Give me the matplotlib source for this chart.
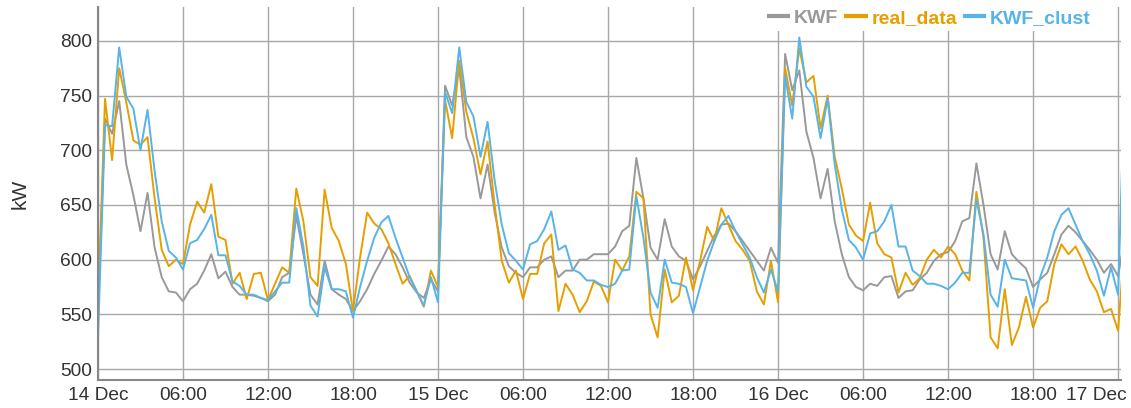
import matplotlib
matplotlib.use("Agg")

import matplotlib.pyplot as plt
import matplotlib.dates as mdates
import matplotlib.transforms as mtransforms
import pandas as pd

# half-hourly readings from 14 Dec 00:00
start = "2019-12-14 00:00"

kwf = [
    548, 729, 715, 745, 687, 659, 626, 661, 611, 584, 571, 570, 562,
    573, 578, 590, 605, 583, 589, 575, 568, 568, 567, 565, 562,
    568, 584, 588, 640, 605, 568, 559, 599, 573, 568, 564, 553,
    562, 573, 587, 599, 612, 605, 593, 579, 570, 565, 582, 571,
    759, 741, 775, 712, 694, 656, 687, 643, 611, 594, 588, 584,
    593, 593, 600, 603, 584, 590, 590, 600, 600, 605, 605, 605,
    612, 626, 631, 693, 656, 611, 600, 637, 612, 603, 599, 582,
    594, 608, 622, 632, 633, 626, 617, 608, 599, 590, 611, 597,
    788, 755, 773, 717, 693, 656, 683, 635, 605, 584, 575, 572,
    578, 576, 584, 585, 565, 571, 572, 582, 588, 599, 605, 607,
    617, 635, 638, 688, 650, 605, 591, 626, 605, 598, 592, 575,
    582, 588, 605, 623, 631, 625, 617, 609, 600, 588, 596, 585,
    623,
]

real_data = [
    558, 747, 691, 775, 744, 709, 705, 712, 656, 609, 594, 600, 596,
    632, 653, 643, 669, 621, 618, 578, 588, 564, 587, 588, 563,
    578, 593, 588, 665, 635, 584, 576, 664, 629, 617, 596, 553,
    602, 643, 633, 628, 615, 596, 578, 585, 571, 557, 590, 575,
    746, 711, 782, 735, 711, 678, 708, 650, 599, 579, 590, 564,
    587, 587, 615, 623, 553, 578, 568, 552, 562, 580, 576, 561,
    600, 590, 603, 662, 656, 550, 529, 591, 561, 567, 602, 572,
    599, 630, 617, 647, 632, 617, 609, 599, 571, 559, 599, 561,
    775, 741, 793, 762, 768, 720, 750, 694, 665, 632, 622, 617,
    652, 615, 605, 602, 570, 588, 577, 583, 600, 609, 602, 612,
    605, 590, 581, 662, 620, 529, 519, 573, 522, 538, 566, 538,
    556, 562, 596, 614, 605, 612, 599, 582, 571, 552, 555, 535,
    623,
]

kwf_clust = [
    528, 723, 722, 794, 749, 738, 700, 737, 681, 635, 608, 602, 591,
    615, 618, 628, 641, 604, 604, 580, 576, 568, 568, 565, 563,
    571, 579, 579, 647, 612, 558, 548, 593, 573, 573, 571, 547,
    575, 599, 620, 634, 640, 620, 602, 584, 571, 558, 584, 561,
    753, 734, 794, 744, 731, 694, 726, 672, 632, 606, 599, 591,
    614, 617, 628, 644, 609, 613, 591, 588, 581, 581, 577, 575,
    578, 590, 591, 658, 620, 570, 556, 600, 579, 578, 575, 551,
    575, 599, 617, 632, 640, 626, 614, 602, 584, 570, 591, 571,
    768, 729, 803, 758, 749, 711, 747, 687, 646, 618, 611, 600,
    624, 626, 635, 650, 612, 612, 590, 585, 578, 578, 576, 573,
    579, 588, 588, 655, 623, 568, 557, 600, 583, 582, 581, 556,
    584, 602, 626, 641, 647, 632, 617, 605, 590, 567, 593, 568,
    780,
]

series = [
    ("KWF", kwf, "#999999"),
    ("real_data", real_data, "#E69F00"),
    ("KWF_clust", kwf_clust, "#56B4E9"),
]

y_ticks = [500, 550, 600, 650, 700, 750, 800]

plt.rcParams["font.family"] = ["Liberation Sans", "DejaVu Sans"]

times = pd.date_range(start, periods=len(kwf), freq="30min")

fig = plt.figure(figsize=(11.31, 4.08), dpi=100)
ax = fig.add_axes([0.0866, 0.0686, 0.9045, 0.9144])

for name, values, color in series:
    ax.plot(times, values, color=color, linewidth=1.4, label=name)

t0 = pd.Timestamp(start)
ax.set_xlim(t0, t0 + pd.Timedelta(hours=72.2))
ax.set_ylim(490, 831)

ax.set_yticks(y_ticks)
ax.xaxis.set_major_locator(mdates.HourLocator(byhour=[0, 6, 12, 18]))


def fmt_time(x, pos=None):
    d = mdates.num2date(x)
    if d.hour == 0:
        return d.strftime("%d %b").lstrip("0")
    return d.strftime("%H:%M")


ax.xaxis.set_major_formatter(plt.FuncFormatter(fmt_time))

ax.grid(color="#a8a8a8", linewidth=1.0)
ax.set_axisbelow(True)
ax.tick_params(length=0, labelsize=13.8, colors="#333333", pad=4)
ax.tick_params(axis="x", pad=5)

for side in ["top", "right"]:
    ax.spines[side].set_visible(False)
for side in ["left", "bottom"]:
    ax.spines[side].set_color("#888888")
    ax.spines[side].set_linewidth(1.5)

ax.set_ylabel("kW", fontsize=15, color="#333333", labelpad=22)

# last date label sits left of its tick so it stays inside the figure
fig.canvas.draw()
last = ax.get_xticklabels()[-1]
last.set_horizontalalignment("right")
last.set_transform(
    last.get_transform()
    + mtransforms.ScaledTranslation(9 / 100, 0, fig.dpi_scale_trans)
)

leg = ax.legend(
    loc="upper right",
    bbox_to_anchor=(0.984, 1.03),
    ncol=3,
    frameon=True,
    facecolor="white",
    edgecolor="none",
    framealpha=1,
    handlelength=1.0,
    handletextpad=0.3,
    columnspacing=0.4,
    borderpad=0.2,
    prop={"size": 14, "weight": "bold"},
)
for text, (_, _, color) in zip(leg.get_texts(), series):
    text.set_color(color)
for line in leg.get_lines():
    line.set_linewidth(3)

fig.savefig("out.png", dpi=100)
